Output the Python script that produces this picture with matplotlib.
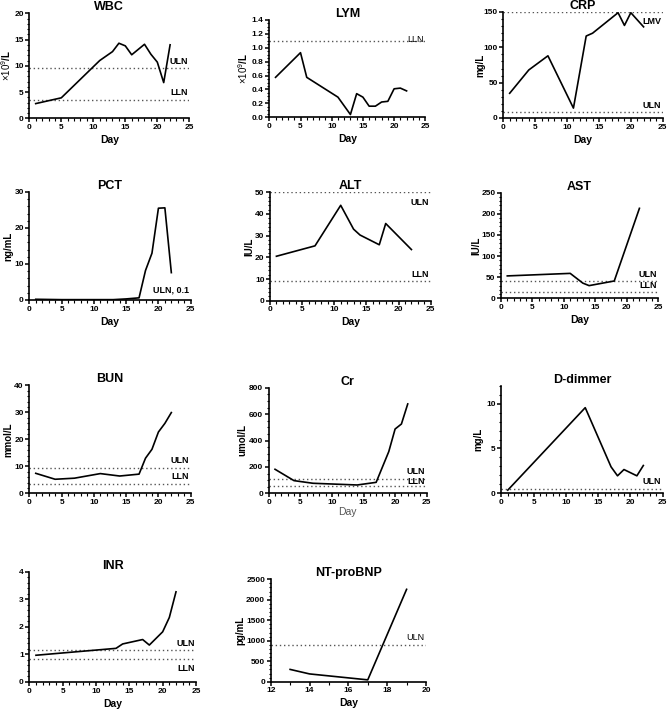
import numpy as np
import matplotlib
matplotlib.use('Agg')
import matplotlib.pyplot as plt
from matplotlib.ticker import MultipleLocator, AutoMinorLocator, FormatStrFormatter

plt.rcParams['font.family'] = ['Liberation Sans', 'DejaVu Sans']
plt.rcParams['mathtext.fontset'] = 'custom'
plt.rcParams['mathtext.rm'] = 'Liberation Sans'
plt.rcParams['mathtext.it'] = 'Liberation Sans'

# Data (day, value)
wbc_day = [1, 5, 11, 13, 14, 15, 16, 18, 19, 20, 21, 22]
wbc_val = [2.8, 3.9, 11.0, 12.7, 14.3, 13.8, 12.1, 14.1, 12.2, 10.7, 6.8, 14.0]

lym_day = [1, 5, 6, 11, 13, 14, 15, 16, 17, 18, 19, 20, 21, 22]
lym_val = [0.575, 0.93, 0.575, 0.29, 0.04, 0.34, 0.29, 0.16, 0.16, 0.22, 0.23, 0.41, 0.42, 0.38]

crp_day = [1, 4, 7, 11, 13, 14, 18, 19, 20, 22]
crp_val = [35, 68, 88, 14, 116, 120, 149, 131, 149, 129]

pct_day = [1, 5, 11, 13, 15, 17, 18, 19, 20, 21, 22]
pct_val = [0.2, 0.1, 0.1, 0.1, 0.3, 0.6, 8.2, 13.0, 25.5, 25.6, 7.6]

alt_day = [1, 7, 11, 13, 14, 17, 18, 22]
alt_val = [20.5, 25.3, 44.0, 33.0, 30.3, 25.8, 35.6, 23.6]

ast_day = [1, 11, 13, 14, 18, 22]
ast_val = [53, 59, 36, 30, 41, 213]

bun_day = [1, 4, 7, 11, 14, 17, 18, 19, 20, 21, 22]
bun_val = [7.4, 5.2, 5.6, 7.3, 6.4, 7.1, 13.0, 16.3, 22.7, 25.9, 29.9]

cr_day = [1, 4, 7, 14, 17, 19, 20, 21, 22]
cr_val = [182, 96, 76, 63, 83, 316, 487, 525, 677]

dd_day = [1, 13, 17, 18, 19, 21, 22]
dd_val = [0.35, 9.55, 2.95, 1.95, 2.65, 1.95, 3.1]

inr_day = [1, 13, 14, 17, 18, 20, 21, 22]
inr_val = [0.97, 1.22, 1.38, 1.54, 1.34, 1.82, 2.34, 3.27]

bnp_day = [13, 14, 17, 19]
bnp_val = [300, 190, 45, 2255]

# ref lines: (value, label, text offset in points (dy), bold, draw line)
# ydx = pixels from the y axis to the inner edge of the y label
panels = [
    dict(title='WBC', x=wbc_day, y=wbc_val, ylabel=r'$\times10^{9}$/L', ylim=20, ymaj=5,
         refs=[(9.5, 'ULN', 5, True, True), (3.5, 'LLN', 5, True, True)], day=True,
         ydx=16, box=(29.3, 189.3, 13.3, 118.3)),
    dict(title='LYM', x=lym_day, y=lym_val, ylabel=r'$\times10^{9}$/L', ylim=1.4, ymaj=0.2,
         refs=[(1.1, 'LLN', 1, False, True)], day=True, yfmt='%.1f',
         ydx=19, box=(269.3, 425.3, 20.0, 117.3)),
    dict(title='CRP', x=crp_day, y=crp_val, ylabel='mg/L', ylim=150, ymaj=50,
         refs=[(150, 'LMV', -7, True, True), (8, 'ULN', 5, True, True)], day=True,
         ydx=18, box=(503.3, 662.7, 12.0, 118.0)),
    dict(title='PCT', x=pct_day, y=pct_val, ylabel='ng/mL', ylim=30, ymaj=10,
         refs=[(0.1, 'ULN, 0.1', 7, True, False)], day=True,
         ydx=16, box=(29.3, 190.7, 192.0, 300.0)),
    dict(title='ALT', x=alt_day, y=alt_val, ylabel='IU/L', ylim=50, ymaj=10,
         refs=[(50, 'ULN', -7, True, True), (9, 'LLN', 5, True, True)], day=True,
         ydx=16, box=(270.0, 430.7, 192.3, 300.7)),
    dict(title='AST', x=ast_day, y=ast_val, ylabel='IU/L', ylim=250, ymaj=50,
         refs=[(40, 'ULN', 5, True, True), (15, 'LLN', 5, True, True)], day=True,
         ydx=20, box=(501.0, 658.3, 192.7, 298.3)),
    dict(title='BUN', x=bun_day, y=bun_val, ylabel='mmol/L', ylim=40, ymaj=10,
         refs=[(9.5, 'ULN', 5, True, True), (3.6, 'LLN', 5, True, True)], day=False,
         ydx=16, box=(29.3, 190.7, 385.3, 493.3)),
    dict(title='Cr', x=cr_day, y=cr_val, ylabel='umol/L', ylim=800, ymaj=200,
         refs=[(111, 'ULN', 5, True, True), (57, 'LLN', 3, True, True)], day='plain',
         ydx=21, box=(268.7, 426.7, 387.7, 493.3)),
    dict(title='D-dimmer', x=dd_day, y=dd_val, ylabel='mg/L', ylim=12, ymaj=5,
         refs=[(0.5, 'ULN', 5, True, True)], day=False,
         ydx=18, box=(501.3, 662.7, 385.7, 493.3)),
    dict(title='INR', x=inr_day, y=inr_val, ylabel='', ylim=4, ymaj=1,
         refs=[(1.15, 'ULN', 5, True, True), (0.85, 'LLN', -7, True, True)], day=True,
         ydx=16, box=(29.3, 196.0, 571.7, 682.0)),
    dict(title='NT-proBNP', x=bnp_day, y=bnp_val, ylabel='pg/mL', ylim=2500, ymaj=500,
         refs=[(900, 'ULN', 5, False, True)], day=True, xlim=(12, 20), xmaj=2,
         ydx=25, box=(270.7, 426.0, 579.3, 681.7)),
]

W, H = 669, 712
fig = plt.figure(figsize=(W / 100, H / 100), dpi=100)

for p in panels:
    x0, x1, yt, yb = p['box']
    ax = fig.add_axes([x0 / W, 1 - yb / H, (x1 - x0) / W, (yb - yt) / H])
    xlim = p.get('xlim', (0, 25))
    ax.plot(p['x'], p['y'], color='black', lw=1.2, zorder=3)
    ax.set_xlim(*xlim)
    ax.set_ylim(0, p['ylim'])

    for val, lab, dy, bold, line in p['refs']:
        if line:
            ax.axhline(val, color='#555555', ls=(0, (1, 2)), lw=1.0, zorder=2)
        ax.annotate(lab, xy=(xlim[1], val), xytext=(-1, dy), textcoords='offset points',
                    ha='right', va='center', fontsize=6.5,
                    fontweight='bold' if bold else 'normal')

    ax.set_title(p['title'], fontsize=9, fontweight='bold', pad=2)
    ax.set_ylabel(p['ylabel'], fontsize=7, fontweight='bold')
    ax.yaxis.set_label_coords(-p['ydx'] / (x1 - x0), 0.5)
    if p['day'] is True:
        ax.set_xlabel('Day', fontsize=7.5, fontweight='bold', labelpad=3)
    elif p['day'] == 'plain':
        ax.set_xlabel('Day', fontsize=7.5, color='#555555', labelpad=1)

    ax.xaxis.set_major_locator(MultipleLocator(p.get('xmaj', 5)))
    ax.xaxis.set_minor_locator(MultipleLocator(1))
    ax.yaxis.set_major_locator(MultipleLocator(p['ymaj']))
    ax.yaxis.set_minor_locator(AutoMinorLocator())
    if 'yfmt' in p:
        ax.yaxis.set_major_formatter(FormatStrFormatter(p['yfmt']))

    for s in ['top', 'right']:
        ax.spines[s].set_visible(False)
    for s in ['left', 'bottom']:
        ax.spines[s].set_linewidth(1.2)
    ax.tick_params(which='major', length=3, width=1.1, labelsize=6, pad=1)
    ax.tick_params(which='minor', length=1.8, width=0.8)
    for t in ax.get_xticklabels() + ax.get_yticklabels():
        t.set_fontweight('bold')

fig.savefig('out.png', dpi=100)
